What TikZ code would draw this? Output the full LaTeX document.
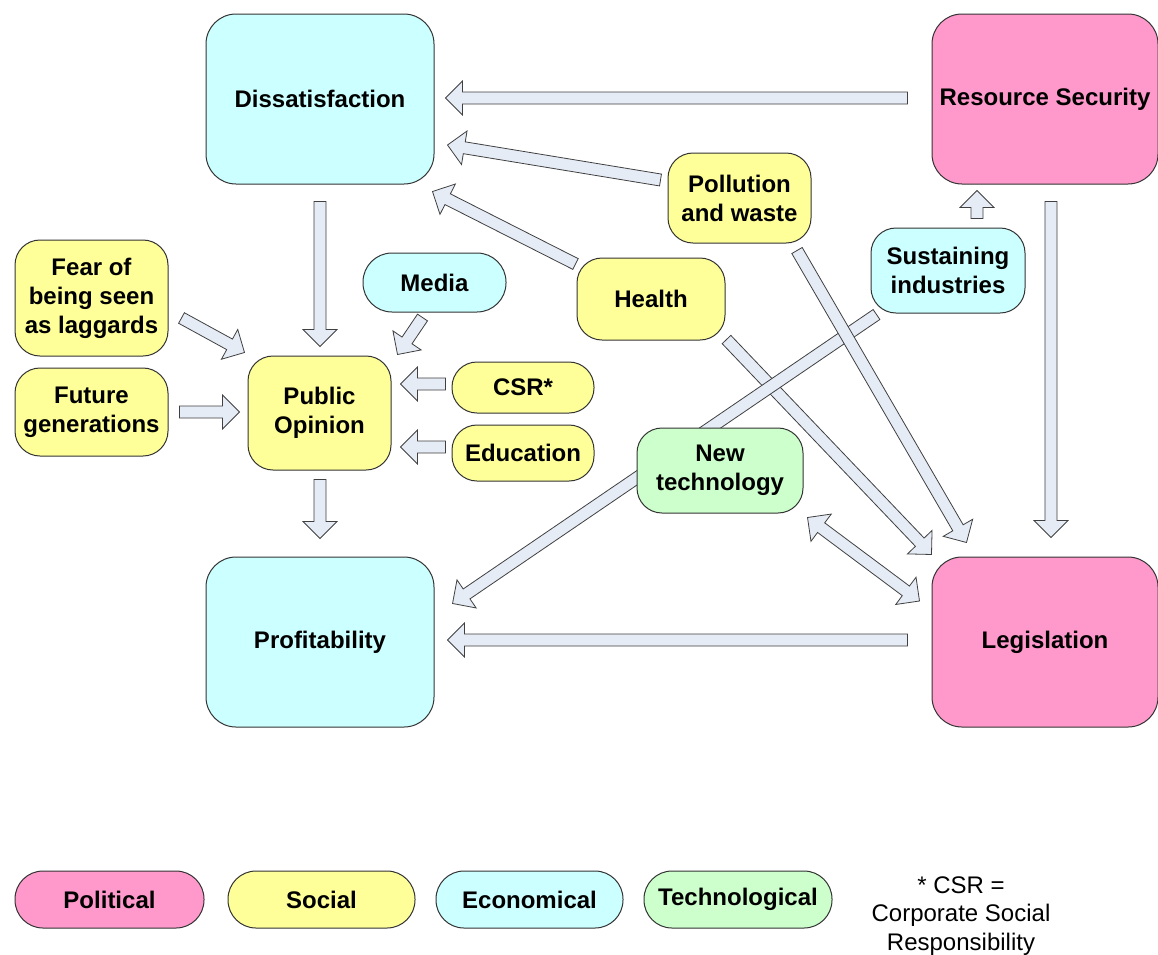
\documentclass[tikz,border=0pt]{standalone}
\usepackage{fontspec}
\setmainfont{Liberation Sans}
\usetikzlibrary{calc,backgrounds}
\definecolor{cyanbox}{HTML}{CCFFFF}
\definecolor{pinkbox}{HTML}{FF99CC}
\definecolor{yelbox}{HTML}{FFFF99}
\definecolor{grnbox}{HTML}{CCFFCC}
\definecolor{arrfill}{HTML}{E6ECF6}
\definecolor{edgecol}{HTML}{333333}
\definecolor{arredge}{HTML}{404040}
\newcommand\boxfont{\fontsize{24}{29}\selectfont\bfseries}
\newcommand\notefont{\fontsize{24}{28.5}\selectfont}
\tikzset{
  box/.style={draw=edgecol, line width=1pt, rounded corners=25pt, align=center, inner sep=0pt, font=\boxfont},
  bigbox/.style={box, rounded corners=30pt, minimum width=228pt, minimum height=170pt},
  pill/.style={box, rounded corners=28pt, minimum height=57pt},
  blk/.style={draw=arredge, fill=arrfill, line width=0.8pt, line join=miter},
}
\newcommand\barrow[2]{%
  \path let \p1=(#1), \p2=(#2) in \pgfextra{%
    \pgfmathsetmacro\tmpang{atan2(\y2-\y1,\x2-\x1)}%
    \pgfmathsetmacro\tmplen{veclen(\x2-\x1,\y2-\y1)}%
    \xdef\baang{\tmpang}\xdef\balen{\tmplen}%
    \xdef\bax{\x1}\xdef\bay{\y1}};%
  \draw[blk, shift={(\bax,\bay)}, rotate=\baang] (0,-6) -- ({\balen-17},-6) -- ({\balen-17},-17) -- (\balen,0) -- ({\balen-17},17) -- ({\balen-17},6) -- (0,6) -- cycle;}
\newcommand\dbarrow[2]{%
  \path let \p1=(#1), \p2=(#2) in \pgfextra{%
    \pgfmathsetmacro\tmpang{atan2(\y2-\y1,\x2-\x1)}%
    \pgfmathsetmacro\tmplen{veclen(\x2-\x1,\y2-\y1)}%
    \xdef\baang{\tmpang}\xdef\balen{\tmplen}%
    \xdef\bax{\x1}\xdef\bay{\y1}};%
  \draw[blk, shift={(\bax,\bay)}, rotate=\baang] (0,0) -- (17,17) -- (17,6) -- ({\balen-17},6) -- ({\balen-17},17) -- (\balen,0) -- ({\balen-17},-17) -- ({\balen-17},-6) -- (17,-6) -- (17,-17) -- cycle;}
\begin{document}
\begin{tikzpicture}[x=1pt,y=1pt]
\useasboundingbox (0,0) rectangle (1158,-954);
% main boxes
\node[bigbox, fill=cyanbox] (dis) at (320,-99) {Dissatisfaction};
\node[bigbox, fill=pinkbox, minimum width=226pt] (rs) at (1045,-99) {Resource Security};
\node[bigbox, fill=cyanbox] (prof) at (320,-642) {Profitability};
\node[bigbox, fill=pinkbox, minimum width=226pt] (leg) at (1045,-642) {Legislation};
% smaller boxes
\node[box, fill=yelbox, minimum width=153pt, minimum height=116pt] (fear) at (91.5,-298) {Fear of\\being seen\\as laggards};
\node[box, fill=yelbox, minimum width=153pt, minimum height=88pt] (fut) at (91.5,-412) {Future\\generations};
\node[box, fill=yelbox, minimum width=143pt, minimum height=114pt] (po) at (319.5,-413) {Public\\Opinion};
\node[box, fill=cyanbox, rounded corners=29pt, minimum width=143pt, minimum height=59pt] (media) at (434.5,-282.5) {Media};
\node[box, fill=yelbox, minimum width=142pt, minimum height=51pt] (csr) at (523,-387.5) {CSR*};
\node[box, fill=yelbox, minimum width=142pt, minimum height=56pt] (edu) at (523,-453) {Education};
\node[box, fill=yelbox, minimum width=148pt, minimum height=82pt] (health) at (651,-299) {Health};
\node[box, fill=yelbox, minimum width=143pt, minimum height=90pt] (pol) at (739.5,-198) {Pollution\\and waste};
\node[box, fill=cyanbox, minimum width=154pt, minimum height=85pt] (sus) at (948,-270.5) {Sustaining\\industries};
\node[box, fill=grnbox, minimum width=166pt, minimum height=85pt] (newt) at (720,-470.5) {New\\technology};
% legend
\node[pill, fill=pinkbox, minimum width=189pt] (lpol) at (109.5,-899.5) {Political};
\node[pill, fill=yelbox, minimum width=187pt] (lsoc) at (321.5,-899.5) {Social};
\node[pill, fill=cyanbox, minimum width=187pt] (leco) at (529.5,-899.5) {Economical};
\node[pill, fill=grnbox, minimum width=188pt] (ltec) at (738,-899.5) {Technological};
\node[align=center, inner sep=0pt, font=\notefont] (note) at (961,-916) {* CSR =\\Corporate Social\\Responsibility};
\begin{pgfonlayer}{background}
\fill[white] (0,0) rectangle (1158,-954);
\barrow{$(rs.west)+(-24,1)$}{$(dis.east)+(11,1)$}
\barrow{$(pol.west)+(-7,18)$}{$(dis.east)+(13,-46)$}
\barrow{$(health.west)+(-1,35)$}{$(dis.south east)+(-2,-7)$}
\barrow{$(dis.south)+(0,-17)$}{$(po.north)+(0.5,9)$}
\barrow{$(fear.east)+(13,-20)$}{$(po.north west)+(-3,3)$}
\barrow{$(fut.east)+(11,0)$}{$(po.west)+(-8,1)$}
\barrow{$(media.south)+(-12,-5)$}{$(po.north east)+(6,1)$}
\barrow{$(csr.west)+(-6,3.5)$}{$(po.east)+(9,29)$}
\barrow{$(edu.west)+(-6,6)$}{$(po.east)+(9,-34)$}
\barrow{$(po.south)+(0.5,-9)$}{$(prof.north)+(0,18)$}
\barrow{$(leg.west)+(-24,2)$}{$(prof.east)+(13,2)$}
\barrow{$(rs.south)+(6,-17)$}{$(leg.north)+(6,19)$}
\barrow{$(sus.north)+(29,9)$}{$(rs.south)+(-68,-6)$}
\barrow{$(health.south east)+(1,1)$}{$(leg.north west)+(0,2)$}
\barrow{$(sus.south west)+(6,-1)$}{$(prof.north east)+(18,-47)$}
\barrow{$(pol.south)+(57.5,-7)$}{$(leg.north west)+(35,14)$}
\dbarrow{$(newt.south east)+(4,-4)$}{$(leg.west)+(-12,41)$}
\end{pgfonlayer}
\end{tikzpicture}
\end{document}
